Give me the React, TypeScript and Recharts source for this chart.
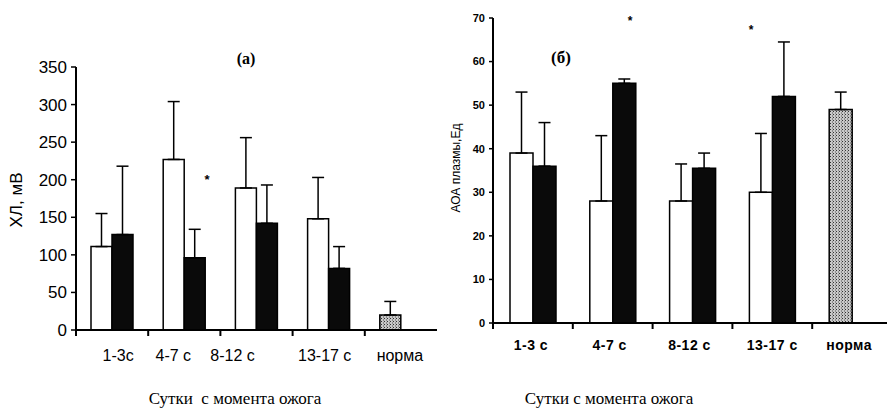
import { Bar, BarChart, Cell, ErrorBar, XAxis, YAxis } from 'recharts'

// (a) хемилюминесценция
const daysA = ['1-3с', '4-7 с', '8-12 с', '13-17 с', 'норма']
const chlWhite = [111, 227, 189, 148, 20]
const chlWhiteErr = [44, 77, 67, 55, 18]
const chlBlack = [127, 96, 142, 82, null]
const chlBlackErr = [91, 38, 51, 29, null]
const chlTicks = [0, 50, 100, 150, 200, 250, 300, 350]

// (б) АОА плазмы
const daysB = ['1-3 с', '4-7 с', '8-12 с', '13-17 с', 'норма']
const aoaWhite = [39, 28, 28, 30, 49]
const aoaWhiteErr = [14, 15, 8.5, 13.5, 4]
const aoaBlack = [36, 55, 35.5, 52, null]
const aoaBlackErr = [10, 1, 3.5, 12.5, null]
const aoaTicks = [0, 10, 20, 30, 40, 50, 60, 70]

const NORM = 'норма'

const rowsA = daysA.map((day, i) => ({
  day,
  w: chlWhite[i],
  wErr: [0, chlWhiteErr[i]],
  b: chlBlack[i],
  bErr: chlBlackErr[i] == null ? null : [0, chlBlackErr[i]],
}))

const rowsB = daysB.map((day, i) => ({
  day,
  w: aoaWhite[i],
  wErr: [0, aoaWhiteErr[i]],
  b: aoaBlack[i],
  bErr: aoaBlackErr[i] == null ? null : [0, aoaBlackErr[i]],
}))

// small nudges of the tick labels, as in the scan
const shiftA = [6, -11, -24, -4, -1]
const shiftB = [-2, -3, -3, 0, -3]

function makeTick(shift: number[], dy: number, font: any, fallbackHalf: number) {
  return (props: any) => {
    const { x, y, payload, index } = props
    const half = payload && payload.offset ? payload.offset : fallbackHalf
    return (
      <g>
        <line x1={x - half} x2={x - half} y1={y} y2={y + 6} stroke="#000" strokeWidth={2} />
        <text x={x + (shift[index] || 0)} y={y + dy} textAnchor="middle" fill="#000" {...font}>
          {payload.value}
        </text>
      </g>
    )
  }
}

const sans = 'Liberation Sans, Arial, sans-serif'
const serif = 'Liberation Serif, Times New Roman, serif'

function Dots({ id }: { id: string }) {
  return (
    <defs>
      <pattern id={id} width={3} height={3} patternUnits="userSpaceOnUse">
        <rect width={3} height={3} fill="#c8c8c8" />
        <rect width={1} height={1} fill="#333" />
        <rect x={2} y={1.5} width={1} height={1} fill="#555" />
      </pattern>
    </defs>
  )
}

export default function App() {
  return (
    <div style={{ position: 'absolute', left: 0, top: 0, width: 887, height: 413, overflow: 'hidden', background: '#fff' }}>
      <div style={{ position: 'absolute', left: 0, top: 0 }}>
        <BarChart width={440} height={413} data={rowsA} barSize={21} barGap={0}
          margin={{ top: 67, right: 3, bottom: 53, left: 34 }}>
          <Dots id="dotsA" />
          <XAxis dataKey="day" height={30} tickSize={0} tickMargin={0} tickLine={false}
            axisLine={{ stroke: '#000', strokeWidth: 2 }} interval={0}
            tick={makeTick(shiftA, 31, { fontSize: 16, fontFamily: sans }, 36)} />
          <YAxis width={42} domain={[0, 350]} ticks={chlTicks} tickSize={5} tickMargin={4}
            axisLine={{ stroke: '#000', strokeWidth: 2 }} tickLine={{ stroke: '#000', strokeWidth: 1.5 }}
            tick={{ fill: '#000', fontSize: 17, fontFamily: sans }} />
          <Bar dataKey="w" stroke="#000" strokeWidth={1.5} isAnimationActive={false}>
            {rowsA.map((r) => (
              <Cell key={r.day} fill={r.day === NORM ? 'url(#dotsA)' : '#fff'} />
            ))}
            <ErrorBar dataKey="wErr" width={6} stroke="#000" strokeWidth={1.5} direction="y" />
          </Bar>
          <Bar dataKey="b" fill="#0a0a0a" stroke="#000" strokeWidth={1.5} isAnimationActive={false}>
            <ErrorBar dataKey="bErr" width={6} stroke="#000" strokeWidth={1.5} direction="y" />
          </Bar>
        </BarChart>
      </div>

      <div style={{ position: 'absolute', left: 440, top: 0 }}>
        <BarChart width={452} height={413} data={rowsB} barSize={23} barGap={0}
          margin={{ top: 18, right: 0, bottom: 60, left: 23 }}>
          <Dots id="dotsB" />
          <XAxis dataKey="day" height={30} tickSize={0} tickMargin={0} tickLine={false}
            axisLine={{ stroke: '#000', strokeWidth: 2 }} interval={0}
            tick={makeTick(shiftB, 27, { fontSize: 14, fontWeight: 'bold', fontFamily: sans, letterSpacing: 0.5 }, 40)} />
          <YAxis width={30} domain={[0, 70]} ticks={aoaTicks} tickSize={4} tickMargin={4}
            axisLine={{ stroke: '#000', strokeWidth: 2 }} tickLine={{ stroke: '#000', strokeWidth: 1.5 }}
            tick={{ fill: '#000', fontSize: 11, fontWeight: 'bold', fontFamily: sans }} />
          <Bar dataKey="w" stroke="#000" strokeWidth={1.5} isAnimationActive={false}>
            {rowsB.map((r) => (
              <Cell key={r.day} fill={r.day === NORM ? 'url(#dotsB)' : '#fff'} />
            ))}
            <ErrorBar dataKey="wErr" width={6} stroke="#000" strokeWidth={1.5} direction="y" />
          </Bar>
          <Bar dataKey="b" fill="#0a0a0a" stroke="#000" strokeWidth={1.5} isAnimationActive={false}>
            <ErrorBar dataKey="bErr" width={6} stroke="#000" strokeWidth={1.5} direction="y" />
          </Bar>
        </BarChart>
      </div>

      {/* annotations */}
      <svg width={887} height={413} style={{ position: 'absolute', left: 0, top: 0, pointerEvents: 'none' }}>
        <text x={246} y={64} textAnchor="middle" fontFamily={serif} fontWeight="bold" fontSize={16}>(a)</text>
        <text x={561} y={63} textAnchor="middle" fontFamily={serif} fontWeight="bold" fontSize={17}>(б)</text>
        <text x={207} y={184} textAnchor="middle" fontFamily={sans} fontWeight="bold" fontSize={13}>*</text>
        <text x={630} y={25} textAnchor="middle" fontFamily={sans} fontWeight="bold" fontSize={12}>*</text>
        <text x={751} y={34} textAnchor="middle" fontFamily={sans} fontWeight="bold" fontSize={12}>*</text>
        <text transform="translate(22,200) rotate(-90)" textAnchor="middle" fontFamily={sans} fontSize={17}>ХЛ, мВ</text>
        <text transform="translate(460,168) rotate(-90)" textAnchor="middle" fontFamily={sans} fontSize={12}>АОА плазмы,Ед</text>
        <text x={235} y={404} textAnchor="middle" fontFamily={serif} fontSize={17} xmlSpace="preserve">Сутки  с момента ожога</text>
        <text x={609} y={404} textAnchor="middle" fontFamily={serif} fontSize={17}>Сутки с момента ожога</text>
      </svg>
    </div>
  )
}
